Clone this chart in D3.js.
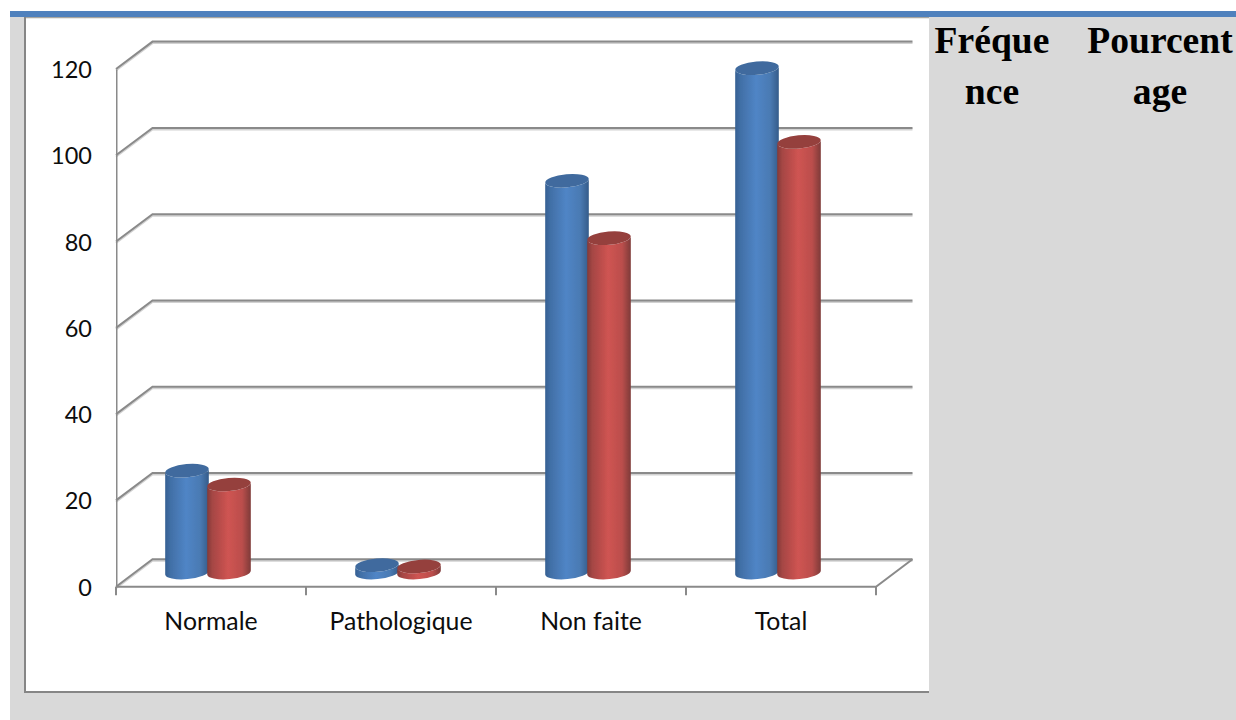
<!DOCTYPE html>
<html lang="fr">
<head>
<meta charset="utf-8">
<title>Fréquence et pourcentage</title>
<script src="https://cdnjs.cloudflare.com/ajax/libs/d3/7.8.5/d3.min.js"></script>
<style>
  html, body { margin: 0; padding: 0; background: #fff; overflow: hidden; }
  svg { display: block; }
  .lbl { font-family: Lato, "Open Sans", sans-serif; font-size: 23.5px; fill: #0d0d0d; }
  .cat { font-family: Lato, "Open Sans", sans-serif; font-size: 24.8px; fill: #0d0d0d; }
  .head { font-family: "Liberation Serif", serif; font-weight: bold; font-size: 37.6px; fill: #000; text-anchor: middle; }
</style>
</head>
<body>
<svg id="chart" width="1236" height="720"></svg>
<script>
// Données du graphique
const categories = ["Normale", "Pathologique", "Non faite", "Total"];
const frequence = [23.6, 1.7, 90.8, 116.9];
const pourcentage = [20.4, 1.4, 77.5, 99.8];
const yTicks = [0, 20, 40, 60, 80, 100, 120];
const headerFrequence = ["Fréque", "nce"];
const headerPourcentage = ["Pourcent", "age"];

const svg = d3.select("#chart");
const W = 1236, H = 720;

// Page background, table rule and white chart panel
svg.append("rect").attr("x", 10).attr("y", 11).attr("width", W - 10).attr("height", H - 11).attr("fill", "#d9d9d9");
svg.append("rect").attr("x", 25).attr("y", 17).attr("width", 904).attr("height", 675).attr("fill", "#fff");
svg.append("path").attr("d", "M25,17.5H929").attr("stroke", "#a8a6a0").attr("stroke-width", 1.5).attr("fill", "none");
svg.append("path").attr("d", "M25,17V692H929").attr("stroke", "#868686").attr("stroke-width", 2).attr("fill", "none");
svg.append("rect").attr("x", 10).attr("y", 11).attr("width", W - 10).attr("height", 6).attr("fill", "#4f81bd");

// Scales: the front plane of the 3D plot box
const y = d3.scaleLinear().domain([0, 120]).range([586.7, 69]);
const x = d3.scaleBand().domain(categories).range([116, 876]);
const inner = d3.scaleBand().domain(["frequence", "pourcentage"]).range([-45, 39]);

// Offset from the front plane to the back wall
const depth = { dx: 36.5, dy: -27.4 };
const gridColor = "#8a8a8a";

const defs = svg.append("defs");
defs.append("filter").attr("id", "soft").attr("x", "-10%").attr("y", "-10%").attr("width", "120%").attr("height", "120%")
  .append("feGaussianBlur").attr("stdDeviation", 0.6);
defs.append("filter").attr("id", "softLine")
  .attr("filterUnits", "userSpaceOnUse").attr("x", 0).attr("y", 0).attr("width", W).attr("height", H)
  .append("feGaussianBlur").attr("stdDeviation", 0.35);

function shade(id, stops) {
  const g = defs.append("linearGradient").attr("id", id).attr("x1", 0).attr("x2", 1).attr("y1", 0).attr("y2", 0);
  stops.forEach(([o, c]) => g.append("stop").attr("offset", o).attr("stop-color", c));
}
shade("bodyBlue", [[0, "#345f92"], [0.12, "#416fa6"], [0.48, "#5085c6"], [0.8, "#4a7ab3"], [1, "#355c8a"]]);
shade("bodyRed", [[0, "#843a38"], [0.12, "#a54644"], [0.48, "#cf5452"], [0.8, "#bb4e4c"], [1, "#7e3a39"]]);

function wallPath(v) {
  const p = d3.path();
  p.moveTo(x.range()[0], y(v));
  p.lineTo(x.range()[0] + depth.dx, y(v) + depth.dy);
  p.lineTo(x.range()[1] + depth.dx, y(v) + depth.dy);
  return p.toString();
}
function floorPath() {
  const p = d3.path();
  p.moveTo(x.range()[0], y(0));
  p.lineTo(x.range()[1], y(0));
  p.lineTo(x.range()[1] + depth.dx, y(0) + depth.dy);
  return p.toString();
}

// Faint drop shadow under the gridlines
const gridShadow = svg.append("g").attr("fill", "none").attr("stroke", "#d2d2d2").attr("stroke-width", 2)
  .attr("transform", "translate(0,1.5)").attr("filter", "url(#softLine)");
gridShadow.selectAll("path").data(yTicks).join("path").attr("d", wallPath);

// Back wall, side wall and floor gridlines
const grid = svg.append("g").attr("fill", "none").attr("stroke", gridColor).attr("stroke-width", 2).attr("filter", "url(#softLine)");
grid.selectAll("path.wall").data(yTicks).join("path").attr("class", "wall").attr("d", wallPath);
grid.append("path").attr("d", floorPath());

// Value axis
const yAxis = svg.append("g").attr("transform", `translate(${x.range()[0]},0)`)
  .call(d3.axisLeft(y).tickValues(yTicks).tickSize(8).tickPadding(16).tickSizeOuter(0));
yAxis.selectAll("path, line").attr("stroke", gridColor).attr("stroke-width", 2).attr("filter", "url(#softLine)");
yAxis.selectAll("text").attr("class", "lbl").attr("dy", "0.36em");

// Category axis, with tick marks between the categories
const xAxis = svg.append("g").attr("transform", `translate(0,${y(0)})`)
  .call(d3.axisBottom(x).tickSize(0).tickPadding(25.5));
xAxis.select(".domain").remove();
xAxis.selectAll("text").attr("class", "cat");
xAxis.selectAll("line.sep").data(d3.range(categories.length + 1)).join("line").attr("class", "sep")
  .attr("x1", i => x.range()[0] + i * x.step()).attr("x2", i => x.range()[0] + i * x.step())
  .attr("y1", 0).attr("y2", 8.5).attr("stroke", gridColor).attr("stroke-width", 2);

// Cylinders: each stands on the mid-depth of the floor, scaled on the value axis
const rx = 21.8, ry = 6.6, tilt = -5;
const slant = rx * Math.sin(-tilt * Math.PI / 180);
const baseShift = 14.2;

function cylinderBody(cx, top, base) {
  return `M${cx - rx},${top + slant}L${cx - rx},${base + slant}` +
    `A${rx},${ry} ${tilt} 0 0 ${cx + rx},${base - slant}` +
    `L${cx + rx},${top - slant}` +
    `A${rx},${ry} ${tilt} 0 1 ${cx - rx},${top + slant}Z`;
}

const seriesList = [
  { key: "frequence", values: frequence, body: "url(#bodyBlue)", lid: "#3f6b9e" },
  { key: "pourcentage", values: pourcentage, body: "url(#bodyRed)", lid: "#953f3d" }
];

const bars = svg.append("g").attr("filter", "url(#soft)");
categories.forEach((cat, i) => {
  seriesList.forEach(s => {
    const cx = x(cat) + x.bandwidth() / 2 + inner(s.key) + inner.bandwidth() / 2;
    const base = y(0) - baseShift;
    const top = y(s.values[i]) - baseShift;
    const g = bars.append("g");
    g.append("path").attr("d", cylinderBody(cx, top, base)).attr("fill", s.body);
    g.append("ellipse")
      .attr("rx", rx).attr("ry", ry)
      .attr("transform", `translate(${cx},${top}) rotate(${tilt})`)
      .attr("fill", s.lid);
  });
});

// Table header cells beside the chart
const headers = [
  { cx: 992, lines: headerFrequence },
  { cx: 1160, lines: headerPourcentage }
];
headers.forEach(h => {
  svg.selectAll(null).data(h.lines).enter().append("text")
    .attr("class", "head")
    .attr("x", h.cx)
    .attr("y", (d, i) => 53 + i * 50.5)
    .text(d => d);
});
</script>
</body>
</html>
